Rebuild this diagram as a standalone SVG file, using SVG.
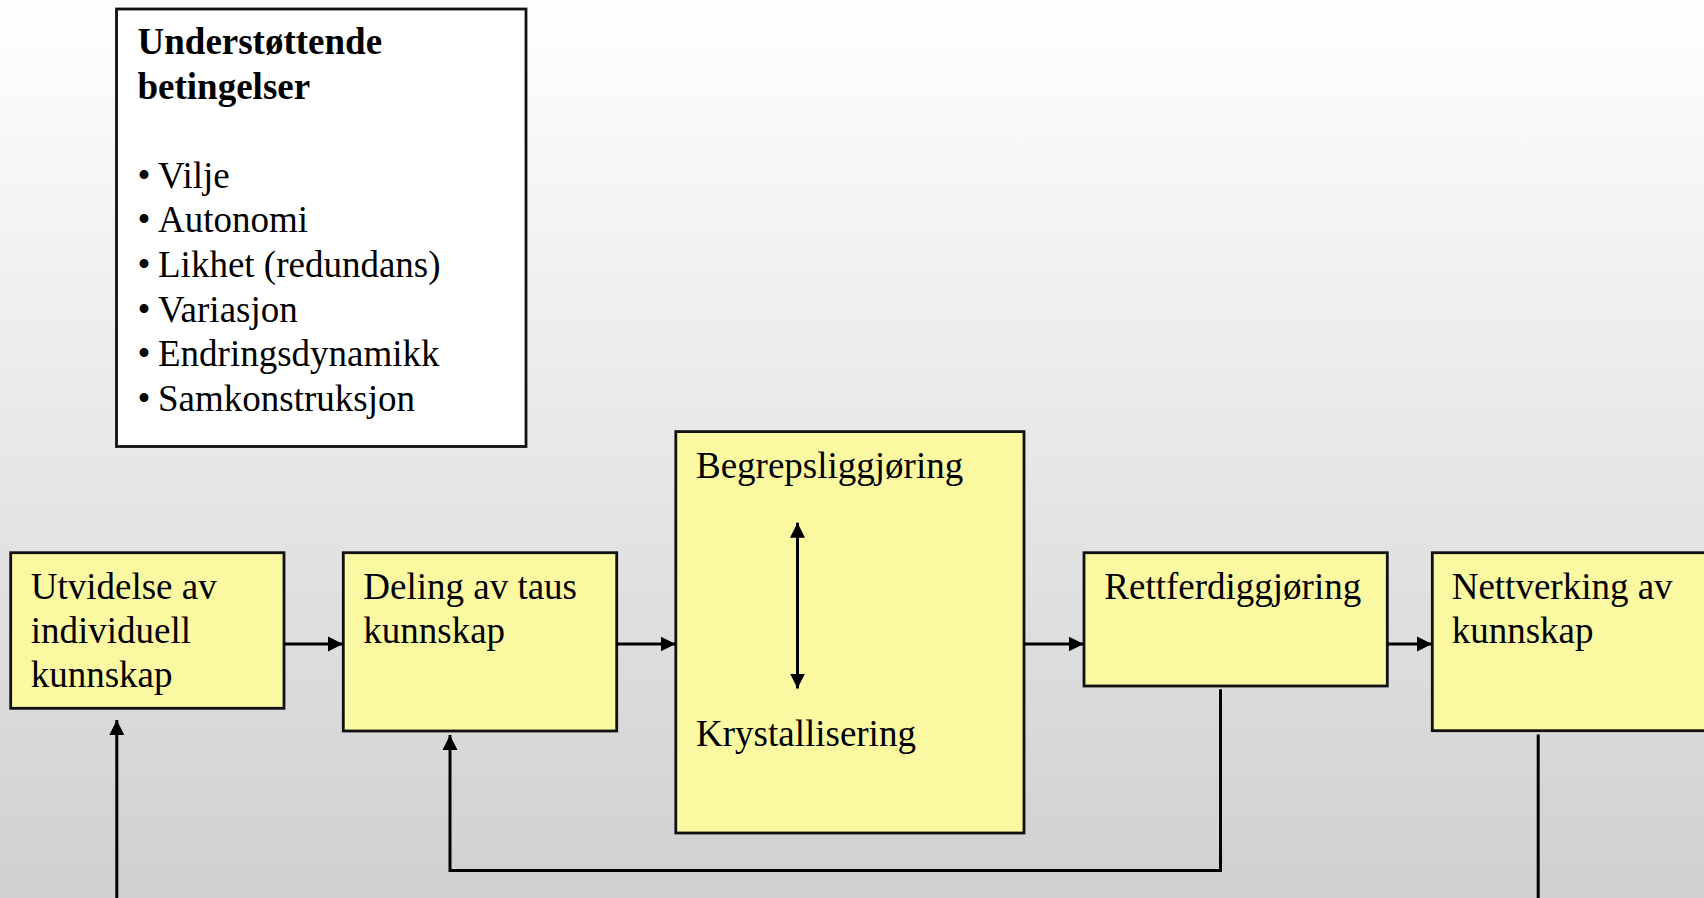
<svg xmlns="http://www.w3.org/2000/svg" width="1704" height="898" viewBox="0 0 1704 898">
  <defs>
    <linearGradient id="bg" x1="0" y1="0" x2="0" y2="1">
      <stop offset="0" stop-color="#ffffff"/>
      <stop offset="1" stop-color="#d0d0d0"/>
    </linearGradient>
    <marker id="arr" markerUnits="userSpaceOnUse" markerWidth="16" markerHeight="16" viewBox="0 0 16 16" refX="15" refY="8" orient="auto-start-reverse">
      <path d="M0,0.5 L15,8 L0,15.5 Z" fill="#000"/>
    </marker>
  </defs>
  <style>
    .box { fill: #faf9a2; stroke: #111; stroke-width: 2.8; }
    .info { fill: #ffffff; stroke: #111; stroke-width: 2.8; }
    .t { font-family: "Liberation Serif", "Times New Roman", serif; font-size: 37px; fill: #000; }
    .b { font-weight: bold; }
    .c { fill: none; stroke: #000; stroke-width: 3; }
  </style>
  <rect x="0" y="0" width="1704" height="898" fill="url(#bg)"/>

  <g id="node-understottende">
    <rect class="info" x="116.5" y="9" width="409.5" height="437.5"/>
    <text class="t b" x="137.5" y="54">Understøttende</text>
    <text class="t b" x="137.5" y="98.5">betingelser</text>
    <text class="t" y="187.5"><tspan x="137.5">•</tspan><tspan x="158">Vilje</tspan></text>
    <text class="t" y="232"><tspan x="137.5">•</tspan><tspan x="158">Autonomi</tspan></text>
    <text class="t" y="276.5"><tspan x="137.5">•</tspan><tspan x="158">Likhet (redundans)</tspan></text>
    <text class="t" y="321.5"><tspan x="137.5">•</tspan><tspan x="158">Variasjon</tspan></text>
    <text class="t" y="366"><tspan x="137.5">•</tspan><tspan x="158">Endringsdynamikk</tspan></text>
    <text class="t" y="411"><tspan x="137.5">•</tspan><tspan x="158">Samkonstruksjon</tspan></text>
  </g>

  <g id="node-utvidelse">
    <rect class="box" x="10.7" y="552.7" width="273.3" height="155.6"/>
    <text class="t" x="30.7" y="599.3">Utvidelse av</text>
    <text class="t" x="30.7" y="643.3">individuell</text>
    <text class="t" x="30.7" y="687.3">kunnskap</text>
  </g>

  <g id="node-deling">
    <rect class="box" x="343.3" y="552.7" width="273.4" height="178.3"/>
    <text class="t" x="363.3" y="599.3">Deling av taus</text>
    <text class="t" x="363.3" y="643.3">kunnskap</text>
  </g>

  <g id="node-begrep">
    <rect class="box" x="675.8" y="431.6" width="348.2" height="401.4"/>
    <text class="t" x="696" y="478.3">Begrepsliggjøring</text>
    <text class="t" x="696" y="746">Krystallisering</text>
  </g>

  <g id="node-rettferdig">
    <rect class="box" x="1084" y="552.7" width="303.3" height="133.3"/>
    <text class="t" x="1104.3" y="599.3">Rettferdiggjøring</text>
  </g>

  <g id="node-nettverk">
    <rect class="box" x="1432.3" y="552.7" width="290" height="178"/>
    <text class="t" x="1451.7" y="599.3">Nettverking av</text>
    <text class="t" x="1451.7" y="643.3">kunnskap</text>
  </g>

  <g id="connectors">
    <path class="c" d="M284,644 H343" marker-end="url(#arr)"/>
    <path class="c" d="M616.7,644 H675.5" marker-end="url(#arr)"/>
    <path class="c" d="M1024,644 H1083.7" marker-end="url(#arr)"/>
    <path class="c" d="M1387.3,644 H1432" marker-end="url(#arr)"/>
    <path class="c" d="M797.5,522.7 V688.5" marker-start="url(#arr)" marker-end="url(#arr)"/>
    <path class="c" d="M116.8,898 V720" marker-end="url(#arr)"/>
    <path class="c" d="M1220.5,689.3 V870.6 H450 V735" marker-end="url(#arr)"/>
    <path class="c" d="M1538.2,734.5 V898"/>
  </g>
</svg>
